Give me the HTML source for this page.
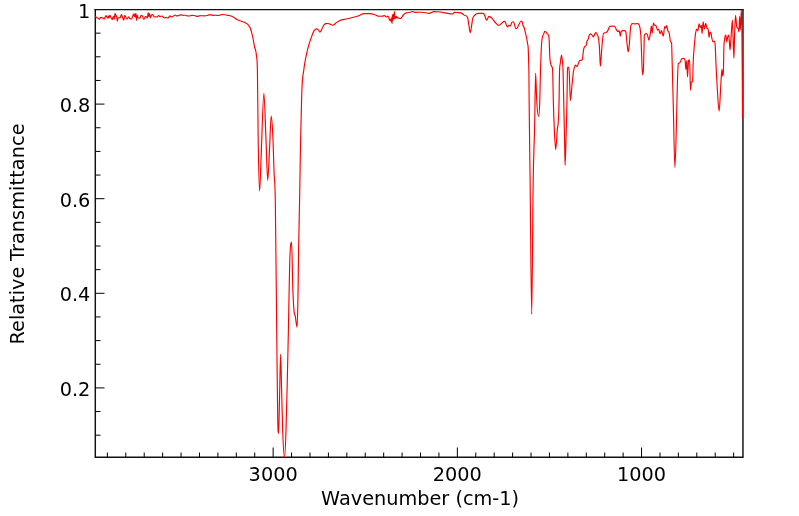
<!DOCTYPE html>
<html><head><meta charset="utf-8"><title>IR Spectrum</title>
<style>
html,body{margin:0;padding:0;background:#fff;}
svg{display:block;}
text{font-family:"DejaVu Sans","Liberation Sans",sans-serif;font-size:19.3px;fill:#000;}
</style></head>
<body>
<svg width="799" height="516" viewBox="0 0 799 516">
<rect width="799" height="516" fill="#fff"/>
<clipPath id="c"><rect x="95.0" y="9.0" width="648.0" height="449.0"/></clipPath>
<path d="M95.3,9H95.3V458M742.95,9V458M94.55,457.3H743.6" fill="none" stroke="#111" stroke-width="1.45"/><path d="M94.55,9.62H743.6" fill="none" stroke="#111" stroke-width="1.25"/>
<path d="M733.65,457.5v-5M715.23,457.5v-5M696.81,457.5v-5M678.39,457.5v-5M659.97,457.5v-5M641.55,457.5v-10M623.13,457.5v-5M604.71,457.5v-5M586.29,457.5v-5M567.87,457.5v-5M549.45,457.5v-5M531.03,457.5v-5M512.61,457.5v-5M494.19,457.5v-5M475.77,457.5v-5M457.35,457.5v-10M438.93,457.5v-5M420.51,457.5v-5M402.09,457.5v-5M383.67,457.5v-5M365.25,457.5v-5M346.83,457.5v-5M328.41,457.5v-5M309.99,457.5v-5M291.57,457.5v-5M273.15,457.5v-10M254.73,457.5v-5M236.31,457.5v-5M217.89,457.5v-5M199.47,457.5v-5M181.05,457.5v-5M162.63,457.5v-5M144.21,457.5v-5M125.79,457.5v-5M107.37,457.5v-5M95.5,435.20h5M95.5,411.55h5M95.5,387.90h9M95.5,364.25h5M95.5,340.60h5M95.5,316.95h5M95.5,293.30h9M95.5,269.65h5M95.5,246.00h5M95.5,222.35h5M95.5,198.70h9M95.5,175.05h5M95.5,151.40h5M95.5,127.75h5M95.5,104.10h9M95.5,80.45h5M95.5,56.80h5M95.5,33.15h5" stroke="#000" stroke-width="1" fill="none"/>
<path clip-path="url(#c)" fill="none" stroke="#f00" stroke-width="1.15" stroke-linejoin="round" d="M95.00,16.50C95.17,16.58 95.33,16.66 95.50,16.75C96.00,17.02 96.50,17.46 97.00,17.75C97.50,18.04 98.00,18.18 98.50,18.50C98.83,18.72 99.17,19.25 99.50,19.25C99.83,19.25 100.17,17.25 100.50,17.25C100.83,17.25 101.17,17.38 101.50,17.50C101.83,17.62 102.17,17.88 102.50,18.00C102.83,18.12 103.17,18.02 103.50,18.25C103.75,18.42 104.00,19.00 104.25,19.00C104.58,19.00 104.92,17.33 105.25,16.75C105.58,16.17 105.92,15.50 106.25,15.50C106.53,15.50 106.82,17.42 107.10,17.75C107.32,18.00 107.53,18.00 107.75,18.00C108.00,18.00 108.25,16.00 108.50,16.00C108.67,16.00 108.83,18.25 109.00,18.25C109.30,18.25 109.60,15.00 109.90,15.00C110.18,15.00 110.47,16.70 110.75,17.25C111.00,17.74 111.25,17.83 111.50,18.25C111.75,18.67 112.00,19.75 112.25,19.75C112.50,19.75 112.75,17.79 113.00,17.25C113.25,16.71 113.50,16.50 113.75,16.50C113.92,16.50 114.08,19.50 114.25,19.50C114.47,19.50 114.68,13.50 114.90,13.50C115.10,13.50 115.30,13.50 115.50,14.00C115.67,14.42 115.83,16.75 116.00,16.75C116.20,16.75 116.40,15.75 116.60,15.75C116.82,15.75 117.03,21.25 117.25,21.25C117.50,21.25 117.75,18.19 118.00,18.00C118.33,17.75 118.67,17.75 119.00,17.75C119.33,17.75 119.67,18.00 120.00,18.00C120.25,18.00 120.50,16.56 120.75,16.00C121.03,15.36 121.32,14.50 121.60,14.50C121.90,14.50 122.20,16.45 122.50,17.25C122.75,17.92 123.00,18.45 123.25,19.00C123.45,19.44 123.65,20.25 123.85,20.25C124.07,20.25 124.28,15.50 124.50,15.50C124.75,15.50 125.00,15.67 125.25,16.00C125.50,16.33 125.75,17.07 126.00,17.50C126.42,18.21 126.83,19.00 127.25,19.00C127.67,19.00 128.08,16.75 128.50,16.75C128.92,16.75 129.33,18.12 129.75,18.50C130.25,18.96 130.75,19.00 131.25,19.00C131.67,19.00 132.08,18.26 132.50,17.25C132.83,16.44 133.17,14.00 133.50,14.00C133.87,14.00 134.23,16.75 134.60,16.75C134.73,16.75 134.87,13.50 135.00,13.50C135.20,13.50 135.40,17.25 135.60,17.25C135.73,17.25 135.87,13.50 136.00,13.50C136.17,13.50 136.33,20.50 136.50,20.50C136.75,20.50 137.00,15.25 137.25,15.25C137.50,15.25 137.75,17.56 138.00,17.75C138.33,18.00 138.67,17.92 139.00,18.00C139.33,18.08 139.67,18.25 140.00,18.25C140.25,18.25 140.50,16.12 140.75,15.75C141.08,15.25 141.42,15.25 141.75,15.25C142.08,15.25 142.42,15.90 142.75,16.75C143.00,17.39 143.25,19.25 143.50,19.25C143.83,19.25 144.17,19.25 144.50,18.75C144.75,18.38 145.00,17.00 145.25,16.75C145.50,16.50 145.75,16.50 146.00,16.50C146.25,16.50 146.50,16.98 146.75,17.25C146.97,17.48 147.18,18.00 147.40,18.00C147.63,18.00 147.87,12.50 148.10,12.50C148.37,12.50 148.63,16.75 148.90,16.75C149.10,16.75 149.30,13.50 149.50,13.50C149.80,13.50 150.10,18.00 150.40,18.00C150.68,18.00 150.97,16.09 151.25,15.50C151.67,14.64 152.08,14.50 152.50,14.50C152.83,14.50 153.17,15.58 153.50,16.00C153.83,16.42 154.17,17.00 154.50,17.00C155.00,17.00 155.50,16.75 156.00,16.75C156.42,16.75 156.83,17.00 157.25,17.00C157.67,17.00 158.08,15.50 158.50,15.50C158.97,15.50 159.43,16.50 159.90,16.50C160.60,16.50 161.30,16.00 162.00,16.00C162.67,16.00 163.33,17.80 164.00,17.80C164.67,17.80 165.33,17.60 166.00,17.60C166.67,17.60 167.33,18.00 168.00,18.00C168.67,18.00 169.33,15.80 170.00,15.80C170.40,15.80 170.80,16.90 171.20,16.90C171.63,16.90 172.07,16.90 172.50,16.80C173.33,16.61 174.17,15.00 175.00,15.00C175.67,15.00 176.33,16.00 177.00,16.00C177.67,16.00 178.33,15.50 179.00,15.30C179.67,15.10 180.33,14.80 181.00,14.80C181.67,14.80 182.33,15.40 183.00,15.40C183.67,15.40 184.33,15.20 185.00,15.20C185.67,15.20 186.33,15.80 187.00,15.90C187.67,16.00 188.33,16.00 189.00,16.00C189.83,16.00 190.67,15.40 191.50,15.40C192.33,15.40 193.17,15.40 194.00,15.50C194.67,15.58 195.33,15.97 196.00,16.10C196.67,16.23 197.33,16.30 198.00,16.30C198.67,16.30 199.33,15.60 200.00,15.60C200.67,15.60 201.33,15.75 202.00,15.80C202.83,15.86 203.67,15.90 204.50,15.90C205.33,15.90 206.17,15.70 207.00,15.50C207.67,15.34 208.33,15.00 209.00,14.90C209.67,14.80 210.33,14.80 211.00,14.80C211.83,14.80 212.67,15.40 213.50,15.40C214.33,15.40 215.17,15.20 216.00,15.20C216.67,15.20 217.33,15.50 218.00,15.50C218.67,15.50 219.33,15.14 220.00,15.00C221.00,14.78 222.00,14.50 223.00,14.50C223.67,14.50 224.33,14.68 225.00,14.80C225.67,14.92 226.33,15.08 227.00,15.20C227.67,15.32 228.33,15.37 229.00,15.50C229.67,15.63 230.33,15.77 231.00,16.00C232.00,16.35 233.00,16.92 234.00,17.50C235.00,18.08 236.00,18.95 237.00,19.50C238.00,20.05 239.00,20.39 240.00,20.80C241.67,21.48 243.33,21.64 245.00,22.60C246.07,23.22 247.13,23.55 248.20,24.90C248.90,25.78 249.60,26.52 250.30,28.30C251.07,30.25 251.83,33.03 252.60,36.50C253.23,39.37 253.87,43.45 254.50,46.60C255.13,49.75 255.77,48.33 256.40,55.40C256.73,59.12 257.07,55.40 257.40,70.00C257.63,80.22 257.87,115.81 258.10,133.00C258.60,169.83 259.10,191.00 259.60,191.00C260.07,191.00 260.53,170.47 261.00,160.00C261.97,138.31 262.93,93.20 263.90,93.20C264.60,93.20 265.30,123.85 266.00,140.00C266.57,153.07 267.13,180.30 267.70,180.30C268.30,180.30 268.90,161.06 269.50,150.00C270.07,139.56 270.63,116.10 271.20,116.10C271.80,116.10 272.40,125.27 273.00,140.00C273.33,148.18 273.67,161.74 274.00,170.80C274.43,182.58 274.87,175.58 275.30,200.00C275.77,226.30 276.23,287.99 276.70,330.00C277.03,360.01 277.37,401.08 277.70,418.00C278.00,433.22 278.30,433.50 278.60,433.50C278.93,433.50 279.27,408.18 279.60,395.00C279.93,381.82 280.27,354.40 280.60,354.40C280.93,354.40 281.27,377.90 281.60,390.00C281.97,403.31 282.33,420.30 282.70,430.80C283.30,447.99 283.90,457.50 284.50,457.50C285.00,457.50 285.50,445.32 286.00,430.80C286.43,418.22 286.87,398.85 287.30,380.40C287.67,364.78 288.03,347.76 288.40,330.00C288.83,309.01 289.27,277.30 289.70,263.00C290.33,242.10 290.97,242.10 291.60,242.10C292.00,242.10 292.40,276.49 292.80,288.00C293.30,302.39 293.80,309.97 294.30,313.40C294.53,315.00 294.77,314.26 295.00,315.00C295.70,317.22 296.40,327.20 297.10,327.20C297.37,327.20 297.63,315.23 297.90,300.80C298.13,288.18 298.37,264.76 298.60,250.00C298.93,228.91 299.27,218.50 299.60,200.00C299.90,183.35 300.20,161.36 300.50,145.60C300.90,124.58 301.30,107.64 301.70,95.20C302.40,73.44 303.10,76.22 303.80,70.00C304.37,64.97 304.93,62.39 305.50,59.20C306.33,54.51 307.17,51.09 308.00,47.80C309.07,43.59 310.13,40.69 311.20,37.70C312.03,35.37 312.87,32.87 313.70,31.40C314.53,29.93 315.37,28.90 316.20,28.90C316.83,28.90 317.47,29.07 318.10,29.60C318.73,30.13 319.37,32.10 320.00,32.10C320.53,32.10 321.07,30.53 321.60,29.60C322.33,28.32 323.07,26.24 323.80,25.20C324.63,24.02 325.47,23.30 326.30,23.30C327.33,23.30 328.37,23.62 329.40,23.90C330.60,24.23 331.80,25.20 333.00,25.20C334.10,25.20 335.20,23.37 336.30,22.60C337.53,21.74 338.77,20.96 340.00,20.40C342.00,19.49 344.00,19.48 346.00,19.00C350.00,18.04 354.00,17.40 358.00,16.00C360.00,15.30 362.00,13.60 364.00,13.60C366.00,13.60 368.00,13.60 370.00,13.60C371.67,13.60 373.33,14.23 375.00,14.75C376.33,15.16 377.67,16.25 379.00,16.25C380.17,16.25 381.33,16.25 382.50,16.10C383.17,16.01 383.83,15.60 384.50,15.60C385.17,15.60 385.83,17.00 386.50,17.00C386.92,17.00 387.33,16.10 387.75,16.10C388.08,16.10 388.42,16.77 388.75,17.50C389.08,18.23 389.42,20.50 389.75,20.50C390.00,20.50 390.25,19.00 390.50,19.00C390.75,19.00 391.00,22.00 391.25,22.00C391.42,22.00 391.58,17.50 391.75,17.50C391.87,17.50 391.98,23.50 392.10,23.50C392.23,23.50 392.37,14.50 392.50,14.50C392.67,14.50 392.83,20.00 393.00,20.00C393.17,20.00 393.33,14.00 393.50,14.00C393.63,14.00 393.77,19.50 393.90,19.50C394.07,19.50 394.23,11.50 394.40,11.50C394.57,11.50 394.73,18.50 394.90,18.50C395.07,18.50 395.23,16.50 395.40,16.50C395.52,16.50 395.63,18.50 395.75,18.50C395.97,18.50 396.18,16.25 396.40,16.25C396.68,16.25 396.97,17.18 397.25,17.50C397.83,18.16 398.42,18.08 399.00,18.25C399.50,18.39 400.00,18.50 400.50,18.50C401.00,18.50 401.50,17.62 402.00,17.00C402.50,16.38 403.00,15.33 403.50,14.75C404.00,14.17 404.50,13.82 405.00,13.50C405.67,13.08 406.33,12.94 407.00,12.75C408.00,12.46 409.00,12.49 410.00,12.25C410.83,12.05 411.67,11.50 412.50,11.50C413.33,11.50 414.17,12.30 415.00,12.30C417.33,12.30 419.67,12.20 422.00,12.20C424.33,12.20 426.67,13.40 429.00,13.40C430.67,13.40 432.33,11.60 434.00,11.60C436.00,11.60 438.00,11.77 440.00,12.00C441.87,12.22 443.73,12.60 445.60,12.90C447.87,13.27 450.13,14.00 452.40,14.00C453.13,14.00 453.87,12.30 454.60,12.30C455.73,12.30 456.87,12.47 458.00,12.60C459.13,12.73 460.27,12.60 461.40,13.10C462.33,13.51 463.27,14.45 464.20,15.10C465.33,15.89 466.47,15.10 467.60,17.40C467.97,18.14 468.33,21.93 468.70,24.10C469.20,27.06 469.70,32.60 470.20,32.60C470.63,32.60 471.07,28.88 471.50,26.40C471.90,24.11 472.30,20.30 472.70,18.50C473.23,16.09 473.77,16.45 474.30,15.70C475.63,13.81 476.97,13.40 478.30,13.40C480.00,13.40 481.70,13.40 483.40,13.40C483.93,13.40 484.47,15.12 485.00,16.30C485.50,17.41 486.00,20.20 486.50,20.20C486.97,20.20 487.43,18.73 487.90,18.00C488.27,17.43 488.63,16.30 489.00,16.30C489.93,16.30 490.87,17.13 491.80,18.00C492.93,19.05 494.07,21.28 495.20,22.50C496.33,23.72 497.47,25.30 498.60,25.30C499.53,25.30 500.47,24.27 501.40,23.60C502.33,22.93 503.27,21.30 504.20,21.30C504.57,21.30 504.93,21.30 505.30,21.90C505.67,22.50 506.03,24.46 506.40,25.30C506.80,26.22 507.20,27.00 507.60,27.00C508.03,27.00 508.47,25.30 508.90,25.30C509.40,25.30 509.90,25.80 510.40,25.80C510.97,25.80 511.53,22.21 512.10,21.90C512.47,21.70 512.83,21.70 513.20,21.70C513.57,21.70 513.93,22.67 514.30,23.60C514.77,24.78 515.23,28.60 515.70,28.60C516.17,28.60 516.63,28.60 517.10,28.10C517.67,27.49 518.23,25.71 518.80,24.70C519.63,23.21 520.47,21.00 521.30,21.00C521.60,21.00 521.90,21.10 522.20,21.90C522.50,22.70 522.80,24.95 523.10,25.80C523.37,26.56 523.63,26.39 523.90,27.00C524.43,28.21 524.97,30.78 525.50,33.10C526.20,36.14 526.90,37.94 527.60,43.70C527.83,45.62 528.07,43.70 528.30,50.20C528.40,52.99 528.50,57.37 528.60,61.00C528.70,64.63 528.80,64.17 528.90,72.00C529.00,79.83 529.10,97.00 529.20,108.00C529.50,141.00 529.80,155.57 530.10,180.00C530.63,223.42 531.17,314.30 531.70,314.30C532.20,314.30 532.70,211.88 533.20,180.00C533.70,148.12 534.20,147.49 534.70,123.00C535.00,108.31 535.30,73.00 535.60,73.00C535.97,73.00 536.33,93.15 536.70,100.00C537.33,111.84 537.97,116.30 538.60,116.30C539.00,116.30 539.40,113.09 539.80,100.00C540.02,92.91 540.23,79.84 540.45,72.00C540.63,65.37 540.82,59.93 541.00,55.30C541.23,49.41 541.47,45.35 541.70,42.20C542.03,37.69 542.37,37.45 542.70,36.10C543.03,34.75 543.37,34.90 543.70,34.10C544.03,33.30 544.37,31.30 544.70,31.30C545.03,31.30 545.37,31.32 545.70,31.60C546.13,31.96 546.57,33.03 547.00,33.60C547.47,34.21 547.93,33.60 548.40,35.10C548.67,35.96 548.93,35.10 549.20,40.20C549.37,43.39 549.53,51.50 549.70,55.30C550.03,62.90 550.37,61.36 550.70,63.30C550.93,64.66 551.17,65.78 551.40,66.30C551.67,66.90 551.93,66.30 552.20,66.90C552.37,67.27 552.53,67.54 552.70,72.00C552.90,77.36 553.10,91.97 553.30,100.00C553.67,114.72 554.03,123.00 554.40,131.00C554.83,140.46 555.27,149.60 555.70,149.60C556.20,149.60 556.70,138.06 557.20,131.00C557.83,122.05 558.47,131.00 559.10,100.00C559.23,93.47 559.37,76.35 559.50,72.00C559.77,63.30 560.03,65.77 560.30,63.30C560.70,59.60 561.10,55.10 561.50,55.10C561.77,55.10 562.03,57.48 562.30,60.30C562.57,63.12 562.83,63.22 563.10,72.00C563.30,78.59 563.50,90.68 563.70,100.00C564.03,115.53 564.37,130.82 564.70,146.50C564.83,152.77 564.97,165.40 565.10,165.40C565.47,165.40 565.83,144.05 566.20,131.00C566.47,121.51 566.73,115.89 567.00,100.00C567.13,92.06 567.27,77.22 567.40,72.00C567.50,68.09 567.60,67.20 567.70,67.20C568.03,67.20 568.37,67.20 568.70,67.20C568.87,67.20 569.03,69.70 569.20,72.00C569.60,77.51 570.00,100.60 570.40,100.60C570.93,100.60 571.47,90.07 572.00,85.00C572.47,80.57 572.93,75.06 573.40,72.00C573.73,69.82 574.07,68.55 574.40,67.40C574.73,66.25 575.07,65.10 575.40,65.10C576.00,65.10 576.60,66.50 577.20,66.50C577.60,66.50 578.00,64.28 578.40,63.30C578.80,62.32 579.20,60.79 579.60,60.60C580.23,60.30 580.87,60.60 581.50,60.30C581.83,60.14 582.17,60.30 582.50,58.80C582.83,57.30 583.17,52.22 583.50,50.20C583.83,48.18 584.17,47.37 584.50,46.70C585.00,45.70 585.50,46.70 586.00,45.70C586.33,45.03 586.67,42.22 587.00,41.20C587.33,40.18 587.67,40.40 588.00,39.60C588.43,38.56 588.87,36.05 589.30,35.10C589.63,34.37 589.97,33.90 590.30,33.90C590.87,33.90 591.43,34.55 592.00,35.10C592.50,35.58 593.00,36.90 593.50,36.90C594.00,36.90 594.50,34.34 595.00,33.60C595.33,33.11 595.67,32.60 596.00,32.60C596.33,32.60 596.67,33.39 597.00,34.10C597.53,35.23 598.07,34.82 598.60,39.10C598.93,41.78 599.27,43.13 599.60,50.20C599.73,53.03 599.87,57.67 600.00,60.30C600.13,62.93 600.27,66.00 600.40,66.00C600.61,66.00 600.81,61.81 601.02,59.33C601.36,55.30 601.69,49.13 602.03,45.23C602.53,39.40 603.04,33.45 603.54,33.14C604.38,32.63 605.22,33.14 606.06,32.63C606.73,32.22 607.41,31.37 608.08,30.11C608.58,29.17 609.09,26.90 609.59,26.59C610.43,26.08 611.27,26.08 612.11,26.08C612.95,26.08 613.78,26.08 614.62,26.28C615.29,26.44 615.97,29.18 616.64,30.11C617.14,30.81 617.65,31.62 618.15,31.62C618.49,31.62 618.82,30.62 619.16,30.62C619.56,30.62 619.97,36.16 620.37,36.16C620.57,36.16 620.77,32.53 620.97,32.13C621.88,30.31 622.78,30.31 623.69,30.31C624.36,30.31 625.04,30.31 625.71,31.62C626.21,32.60 626.72,41.46 627.22,45.23C627.56,47.75 627.89,51.78 628.23,51.78C628.56,51.78 628.90,48.21 629.23,45.23C629.74,40.70 630.24,28.62 630.75,26.08C631.25,23.56 631.76,23.56 632.26,23.56C633.10,23.56 633.94,23.87 634.78,23.87C635.79,23.87 636.79,23.56 637.80,23.56C638.47,23.56 639.14,23.56 639.81,27.09C640.15,28.86 640.48,29.31 640.82,35.15C641.09,39.84 641.36,47.80 641.63,55.30C641.76,59.00 641.90,63.97 642.03,66.99C642.27,72.36 642.50,74.85 642.74,74.85C643.01,74.85 643.27,74.85 643.54,66.99C643.67,63.06 643.81,55.51 643.94,50.26C644.08,44.88 644.21,35.49 644.35,35.15C644.95,33.64 645.56,33.64 646.16,33.64C646.63,33.64 647.10,33.97 647.57,35.15C648.01,36.25 648.44,40.19 648.88,40.19C649.38,40.19 649.89,36.19 650.39,33.14C650.73,31.10 651.06,26.08 651.40,26.08C651.67,26.08 651.94,33.14 652.21,33.14C652.61,33.14 653.02,23.06 653.42,23.06C653.75,23.06 654.09,24.75 654.42,25.08C654.92,25.58 655.43,25.08 655.93,25.58C656.50,26.15 657.08,30.11 657.65,30.11C657.92,30.11 658.18,29.11 658.45,29.11C659.06,29.11 659.66,33.64 660.27,33.64C660.67,33.64 661.08,30.62 661.48,30.62C662.08,30.62 662.69,36.16 663.29,36.16C663.76,36.16 664.23,26.59 664.70,26.59C665.04,26.59 665.37,28.10 665.71,28.10C665.98,28.10 666.24,25.58 666.51,25.58C667.02,25.58 667.52,29.74 668.03,31.12C668.47,32.31 668.90,31.40 669.34,33.64C669.67,35.35 670.01,39.95 670.34,41.20C670.74,42.71 671.15,41.20 671.55,42.71C671.73,43.40 671.92,53.82 672.10,60.00C672.50,73.49 672.90,91.12 673.30,106.50C673.83,127.01 674.37,167.40 674.90,167.40C675.37,167.40 675.83,146.36 676.30,129.80C676.67,116.79 677.03,94.71 677.40,83.30C677.70,73.96 678.00,63.92 678.30,63.50C678.80,62.80 679.30,63.36 679.80,62.80C680.47,62.05 681.13,59.30 681.80,58.80C682.47,58.30 683.13,58.30 683.80,58.30C684.23,58.30 684.67,58.30 685.10,60.50C685.37,61.85 685.63,69.60 685.90,69.60C686.20,69.60 686.50,60.50 686.80,60.50C687.03,60.50 687.27,77.00 687.50,77.00C687.87,77.00 688.23,61.27 688.60,60.50C688.93,59.80 689.27,59.80 689.60,59.80C689.90,59.80 690.20,90.20 690.50,90.20C690.80,90.20 691.10,82.45 691.40,82.00C691.80,81.40 692.20,82.00 692.60,81.40C692.77,81.15 692.93,69.72 693.10,65.00C693.60,50.82 694.10,48.26 694.60,42.50C695.00,37.89 695.40,34.25 695.80,32.00C696.13,30.13 696.47,29.00 696.80,29.00C697.17,29.00 697.53,30.80 697.90,30.80C698.30,30.80 698.70,23.80 699.10,23.80C699.50,23.80 699.90,27.50 700.30,27.50C700.63,27.50 700.97,25.30 701.30,25.30C701.57,25.30 701.83,33.50 702.10,33.50C702.43,33.50 702.77,21.80 703.10,21.80C703.50,21.80 703.90,29.00 704.30,29.00C704.80,29.00 705.30,23.30 705.80,23.30C706.17,23.30 706.53,27.66 706.90,28.30C707.30,29.00 707.70,28.30 708.10,29.00C708.43,29.58 708.77,37.30 709.10,37.30C709.40,37.30 709.70,32.00 710.00,32.00C710.37,32.00 710.73,32.00 711.10,33.50C711.33,34.45 711.57,36.79 711.80,38.00C712.30,40.59 712.80,41.80 713.30,41.80C713.67,41.80 714.03,41.00 714.40,41.00C714.70,41.00 715.00,41.27 715.30,47.00C715.47,50.18 715.63,55.95 715.80,60.00C716.33,72.96 716.87,81.82 717.40,90.20C717.97,99.10 718.53,111.20 719.10,111.20C719.70,111.20 720.30,92.02 720.90,83.30C721.23,78.45 721.57,69.30 721.90,69.30C722.20,69.30 722.50,76.30 722.80,76.30C723.03,76.30 723.27,76.30 723.50,69.30C723.60,66.30 723.70,53.94 723.80,50.00C724.07,39.50 724.33,42.00 724.60,39.50C725.00,35.75 725.40,35.00 725.80,35.00C726.13,35.00 726.47,41.80 726.80,41.80C727.07,41.80 727.33,38.40 727.60,37.30C728.00,35.64 728.40,35.00 728.80,35.00C729.20,35.00 729.60,50.00 730.00,50.00C730.30,50.00 730.60,43.15 730.90,39.50C731.40,33.42 731.90,20.00 732.40,20.00C732.90,20.00 733.40,58.30 733.90,58.30C734.13,58.30 734.37,41.61 734.60,35.00C734.90,26.50 735.20,15.20 735.50,15.20C735.97,15.20 736.43,26.57 736.90,27.50C737.30,28.30 737.70,27.50 738.10,28.30C738.40,28.90 738.70,32.00 739.00,32.00C739.20,32.00 739.40,16.30 739.60,16.30C739.83,16.30 740.07,29.80 740.30,29.80C740.67,29.80 741.03,9.50 741.40,9.50C741.60,9.50 741.80,18.83 742.00,40.00C742.10,50.58 742.20,63.27 742.30,80.00C742.37,91.16 742.43,105.33 742.50,118.00"/>
<text x="273.15" y="481" text-anchor="middle">3000</text><text x="457.35" y="481" text-anchor="middle">2000</text><text x="641.55" y="481" text-anchor="middle">1000</text>
<text x="90.3" y="18.20" text-anchor="end">1</text><text x="90.3" y="111.90" text-anchor="end">0.8</text><text x="90.3" y="206.50" text-anchor="end">0.6</text><text x="90.3" y="301.10" text-anchor="end">0.4</text><text x="90.3" y="395.70" text-anchor="end">0.2</text>
<text x="420.1" y="504.5" text-anchor="middle">Wavenumber (cm-1)</text>
<text transform="translate(23.8,344.5) rotate(-90)">Relative <tspan dx="-0.5" letter-spacing="0.075">Transmittance</tspan></text>
</svg>
</body></html>
